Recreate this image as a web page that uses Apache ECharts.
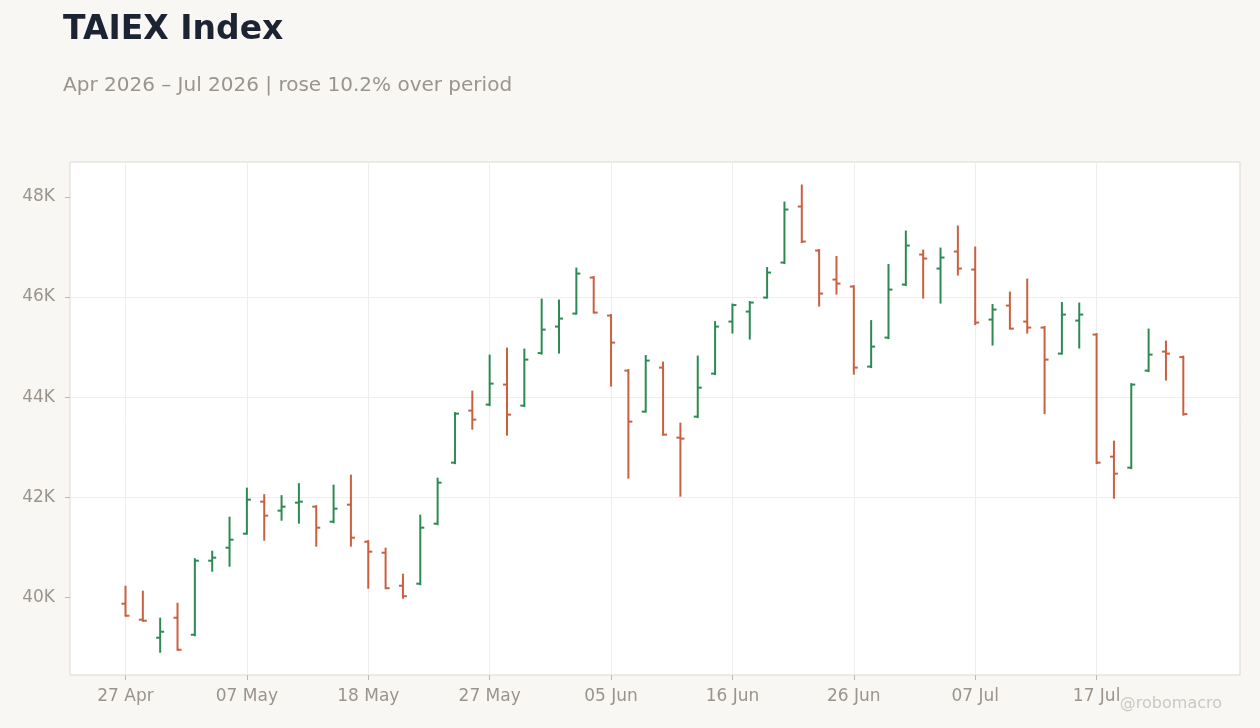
<!DOCTYPE html>
<html>
<head>
  <meta charset="UTF-8">
  <title>TAIEX Index</title>
  <script src="https://cdn.jsdelivr.net/npm/echarts@6/dist/echarts.min.js"></script>
  <style type="text/css">
    * { margin: 0; padding: 0; box-sizing: border-box; }
    html, body { width: 100%; height: 100%; background: #f8f7f4; }
    #main { width: 1260px; height: 728px; }
  </style>
</head>
<body>
  <div id="main"></div>
  <script type="text/javascript">
    // trading days (1 May, 19 Jun, 10 Jul closed)
    var dates = ['27 Apr','28 Apr','29 Apr','30 Apr','04 May','05 May','06 May','07 May','08 May','11 May',
                 '12 May','13 May','14 May','15 May','18 May','19 May','20 May','21 May','22 May','25 May',
                 '26 May','27 May','28 May','29 May','01 Jun','02 Jun','03 Jun','04 Jun','05 Jun','08 Jun',
                 '09 Jun','10 Jun','11 Jun','12 Jun','15 Jun','16 Jun','17 Jun','18 Jun','22 Jun','23 Jun',
                 '24 Jun','25 Jun','26 Jun','29 Jun','30 Jun','01 Jul','02 Jul','03 Jul','06 Jul','07 Jul',
                 '08 Jul','09 Jul','13 Jul','14 Jul','15 Jul','16 Jul','17 Jul','20 Jul','21 Jul','22 Jul',
                 '23 Jul','24 Jul'];
    var opens  = [39870,39550,39190,39590,39250,40730,40990,41270,41910,41730,
                  41890,41810,41510,41850,41110,40890,40230,40270,41470,42690,
                  43730,43850,44250,43830,44880,45410,45670,46390,45630,44530,
                  43710,44590,43190,43610,44470,45510,45710,45990,46690,47810,
                  46930,46350,46210,44610,45190,46250,46850,46570,46910,46550,
                  45550,45830,45510,45390,44870,45530,45250,42810,42590,44530,
                  44910,44800];
    var highs  = [40210,40110,39570,39870,40760,40910,41590,42170,42040,42020,
                  42260,41820,42230,42430,41120,40970,40450,41630,42370,43680,
                  44110,44830,44970,44950,45950,45930,46570,46400,45640,44540,
                  44820,44690,43470,44810,45500,45850,45900,46580,47890,48230,
                  46940,46800,46220,45520,46640,47310,46930,46970,47410,46990,
                  45840,46090,46350,45400,45880,45870,45260,43110,44260,45350,
                  45110,44810];
    var lows   = [39630,39530,38910,38950,39240,40530,40630,41270,41150,41550,
                  41490,41030,41500,41030,40190,40180,39990,40260,41460,42680,
                  43370,43840,43250,43820,44870,44890,45670,45690,44230,42390,
                  43710,43250,42030,43600,44460,45290,45170,45990,46680,47100,
                  45830,46070,44470,44600,45180,46240,45990,45890,46450,45460,
                  45050,45370,45290,43680,44870,44990,42680,41990,42580,44520,
                  44350,43650];
    var closes = [39630,39530,39310,38950,40730,40790,41150,41950,41630,41810,
                  41910,41390,41770,41190,40910,40180,40020,41390,42290,43670,
                  43550,44270,43650,44750,45350,45570,46470,45690,45090,43510,
                  44730,43250,43170,44190,45410,45840,45890,46490,47750,47110,
                  46070,46270,44590,45010,46150,47030,46770,46790,46570,45490,
                  45750,45370,45390,44750,45650,45650,42690,42470,44250,44850,
                  44870,43660];
    var xTicks = [0, 7, 14, 21, 28, 35, 42, 49, 56];
    var yTicks = [40000, 42000, 44000, 46000, 48000];

    var upColor = '#2e8a55';
    var downColor = '#c9603f';
    var font = 'DejaVu Sans';

    var ohlc = [];
    for (var i = 0; i < dates.length; i++) {
      ohlc.push([i, opens[i], closes[i], lows[i], highs[i]]);
    }

    function renderOhlc(params, api) {
      var x = api.value(0);
      var o = api.coord([x, api.value(1)]);
      var c = api.coord([x, api.value(2)]);
      var l = api.coord([x, api.value(3)]);
      var h = api.coord([x, api.value(4)]);
      var color = api.value(2) >= api.value(1) ? upColor : downColor;
      var st = { stroke: color, lineWidth: 2 };
      return {
        type: 'group',
        children: [
          { type: 'line', shape: { x1: h[0], y1: h[1] - 1, x2: l[0], y2: l[1] + 1 }, style: st },
          { type: 'line', shape: { x1: o[0] - 4, y1: o[1], x2: o[0], y2: o[1] }, style: st },
          { type: 'line', shape: { x1: c[0], y1: c[1], x2: c[0] + 4, y2: c[1] }, style: st }
        ]
      };
    }

    var myChart = echarts.init(document.getElementById('main'));
    var option = {
      backgroundColor: '#f8f7f4',
      animation: false,
      title: [
        { text: 'TAIEX Index', left: 58, top: 9,
          textStyle: { fontFamily: font, fontSize: 33, fontWeight: 'bold', color: '#1c2333' } },
        { text: 'Apr 2026 \u2013 Jul 2026 | rose 10.2% over period', left: 58, top: 71,
          textStyle: { fontFamily: font, fontSize: 20, fontWeight: 'normal', color: '#9a948d' } }
      ],
      graphic: [{
        type: 'text', right: 38, top: 696,
        style: { text: '@robomacro', fontFamily: font, fontSize: 16, fill: '#ccc8c2' }
      }],
      grid: {
        left: 70, top: 162, right: 20, bottom: 53,
        show: true, backgroundColor: '#ffffff', borderColor: '#ddd8d1', borderWidth: 1
      },
      xAxis: {
        type: 'value', min: -3.2, max: 64.27,
        axisLine: { show: false, onZero: false },
        axisTick: { show: true, length: 5, customValues: xTicks, lineStyle: { color: '#bdb8b1' } },
        axisLabel: {
          customValues: xTicks, margin: 13,
          fontFamily: font, fontSize: 17, color: '#9a948d',
          formatter: function (v) { return dates[Math.round(v)]; }
        },
        splitLine: { show: true, customValues: xTicks, lineStyle: { color: '#eeeeee' } }
      },
      yAxis: {
        type: 'value', min: 38445, max: 48700,
        axisLine: { show: false, onZero: false },
        axisTick: { show: true, length: 5, customValues: yTicks, lineStyle: { color: '#bdb8b1' } },
        axisLabel: {
          customValues: yTicks, margin: 15,
          fontFamily: font, fontSize: 17, color: '#9a948d',
          formatter: function (v) { return (v / 1000) + 'K'; }
        },
        splitLine: { show: true, showMinLine: false, showMaxLine: false, lineStyle: { color: '#eeeeee' } }
      },
      series: [{
        type: 'custom',
        renderItem: renderOhlc,
        encode: { x: 0, y: [1, 2, 3, 4] },
        data: ohlc,
        clip: true
      }]
    };
    myChart.setOption(option);
  </script>
</body>
</html>
